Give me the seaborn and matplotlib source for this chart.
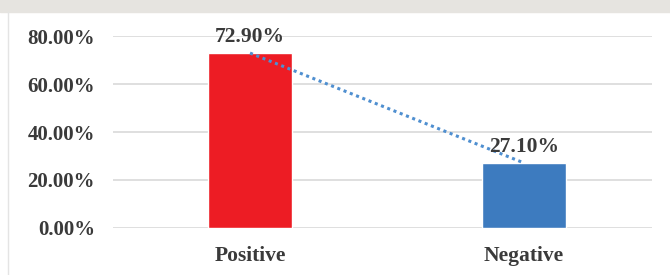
import matplotlib
matplotlib.use("Agg")
import matplotlib.pyplot as plt
import seaborn as sns
import pandas as pd

categories = ["Positive", "Negative"]
shares = [72.90, 27.10]
bar_colors = ["#ed1c24", "#3d7bbf"]
yticks = [0, 20, 40, 60, 80]

sns.set_theme(style="white")
plt.rcParams["font.family"] = ["Liberation Serif", "DejaVu Serif"]
plt.rcParams["font.weight"] = "bold"

df = pd.DataFrame({"sentiment": categories, "share": shares})

fig = plt.figure(figsize=(6.7, 2.75), dpi=100)
fig.patch.set_facecolor("white")
ax = fig.add_axes([0.1687, 0.171, 0.8043, 0.698])

sns.barplot(data=df, x="sentiment", y="share", hue="sentiment",
            palette=bar_colors, width=0.307, legend=False, ax=ax,
            saturation=1, zorder=3)

# dotted trend line between bar tops
ax.plot(range(len(shares)), shares, linestyle=(0, (1, 1.2)), color="#4f8fd0",
        linewidth=2.2, zorder=4)

for i, v in enumerate(shares):
    ax.text(i, v + 2.6, f"{v:.2f}%", ha="center", va="bottom",
            fontsize=15.5, fontweight="bold", color="#3a3a3a", zorder=5)

ax.set_ylim(0, 80)
ax.set_xlim(-0.5, 1.467)
ax.set_yticks(yticks)
ax.set_yticklabels([f"{t:.2f}%" for t in yticks])
for y in yticks:
    ax.axhline(y, color="#d9d9d9", linewidth=1.2, zorder=1)
ax.set_xlabel("")
ax.set_ylabel("")
ax.tick_params(axis="y", length=0, pad=13, labelsize=15, labelcolor="#3a3a3a")
ax.tick_params(axis="x", length=0, pad=13, labelsize=15.5, labelcolor="#3a3a3a")
for s in ax.spines.values():
    s.set_visible(False)

# top grey band and left frame line
fig.patches.append(plt.Rectangle((0, 1 - 12 / 275), 1, 12 / 275,
                                 transform=fig.transFigure, color="#e6e4e0"))
fig.lines.append(plt.Line2D([8 / 670, 8 / 670], [0, 1 - 12 / 275],
                            transform=fig.transFigure, color="#e4e4e4", linewidth=1))

fig.savefig("out.png", dpi=100)
